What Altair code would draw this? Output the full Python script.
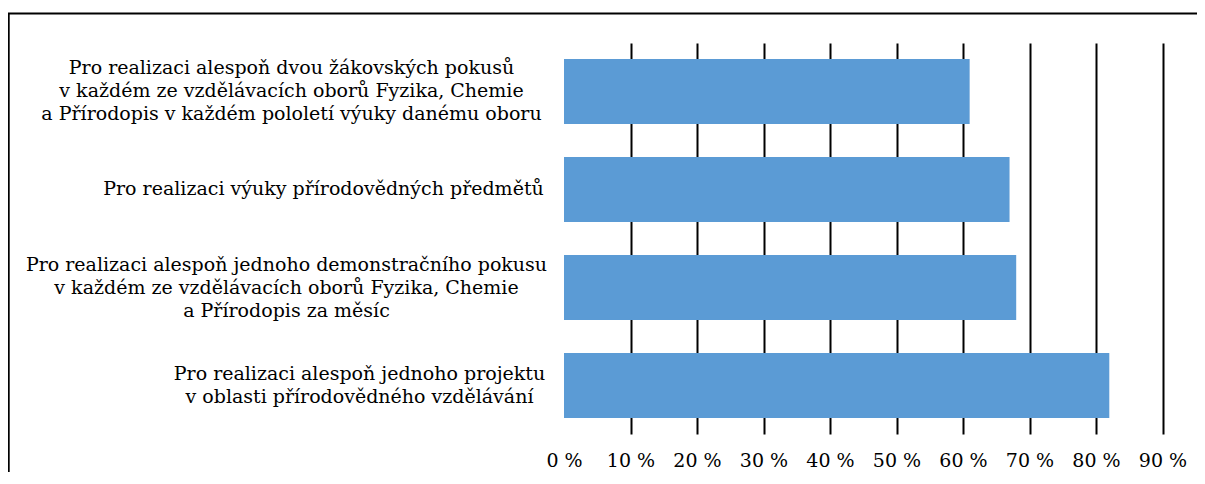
import altair as alt
import pandas as pd

categories = [
    "Pro realizaci alespoň dvou žákovských pokusů\nv každém ze vzdělávacích oborů Fyzika, Chemie\na Přírodopis v každém pololetí výuky danému oboru",
    "Pro realizaci výuky přírodovědných předmětů",
    "Pro realizaci alespoň jednoho demonstračního pokusu\nv každém ze vzdělávacích oborů Fyzika, Chemie\na Přírodopis za měsíc",
    "Pro realizaci alespoň jednoho projektu\nv oblasti přírodovědného vzdělávání",
]
values = [61, 67, 68, 82]
x_ticks = [0, 10, 20, 30, 40, 50, 60, 70, 80, 90]

df = pd.DataFrame({"kategorie": categories, "hodnota": values})

FONT = "DejaVu Serif"
LINE_H = 23

bars = alt.Chart(df).mark_bar(color="#5B9BD5").encode(
    x=alt.X(
        "hodnota:Q",
        scale=alt.Scale(domain=[0, 90], nice=False, zero=True),
        axis=alt.Axis(
            values=x_ticks,
            labelExpr="datum.value + ' %'",
            title=None,
            domain=False,
            ticks=False,
            grid=True,
            gridColor="#000000",
            gridWidth=2,
            gridOpacity=alt.condition("datum.value === 0", alt.value(0), alt.value(1)),
            labelFont=FONT,
            labelFontSize=19,
            labelColor="#000000",
            labelPadding=17,
            labelFlush=False,
        ),
    ),
    y=alt.Y(
        "kategorie:N",
        sort=categories,
        scale=alt.Scale(paddingInner=0.337, paddingOuter=0.163),
        axis=alt.Axis(
            title=None,
            domain=False,
            ticks=False,
            grid=False,
            labelExpr="split(datum.label, '\\n')",
            labelAlign="center",
            labelBaseline="middle",
            labelFont=FONT,
            labelFontSize=19,
            labelLineHeight=LINE_H,
            labelColor="#000000",
            labelLimit=0,
            labelOffset={"expr": f"-(length(split(datum.label, '\\n')) - 1) * {LINE_H / 2}"},
            labelPadding={"expr": "[273, 241, 278, 205][indexof(domain('y'), datum.value)]"},
        ),
    ),
)

frame = alt.Chart(alt.Data(values=[{"f": 1}])).mark_rect(
    filled=False, stroke="#000000", strokeWidth=2
).encode(
    x=alt.value(-555.3),
    x2=alt.value(2000),
    y=alt.value(-29.5),
    y2=alt.value(1000),
)

chart = alt.layer(bars, frame).properties(
    width=598.5,
    height=391,
    padding={"left": 556, "top": 35, "right": 34, "bottom": 38},
    autosize=alt.AutoSizeParams(type="none"),
    background="#ffffff",
).configure(
    font=FONT,
    view=alt.ViewConfig(strokeWidth=0, stroke="transparent"),
)

chart.save("out.html", embed_options={"renderer": "svg", "actions": False})
